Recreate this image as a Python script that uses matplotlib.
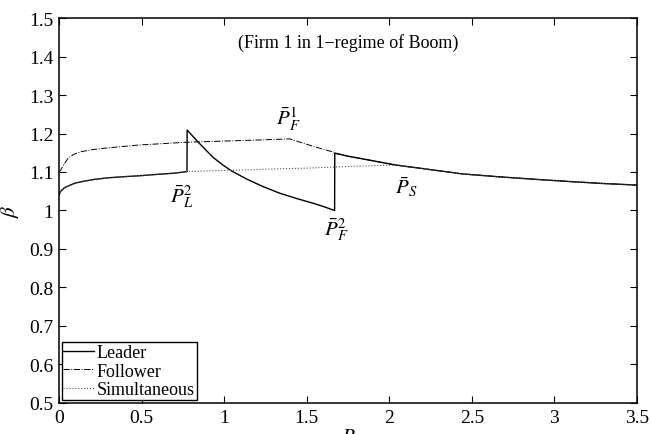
import matplotlib
matplotlib.use("Agg")
import matplotlib.pyplot as plt
from matplotlib.ticker import FuncFormatter

plt.rcParams['font.family'] = ['Liberation Serif', 'DejaVu Serif']
plt.rcParams['mathtext.fontset'] = 'stix'

# values
# leader, before the first jump (P_L^2)
lead1_x = [0.0, 0.01, 0.036, 0.097, 0.15, 0.218, 0.3, 0.4, 0.48, 0.6, 0.7, 0.775]
lead1_y = [1.040, 1.050, 1.060, 1.071, 1.076, 1.081, 1.085, 1.088, 1.090, 1.094, 1.097, 1.101]
# leader, between the two jumps (decaying part)
lead2_x = [0.776, 0.81, 0.842, 0.885, 0.933, 0.99, 1.044, 1.135, 1.236, 1.336, 1.44, 1.538, 1.61, 1.669]
lead2_y = [1.209, 1.193, 1.178, 1.159, 1.138, 1.119, 1.103, 1.082, 1.062, 1.045, 1.031, 1.019, 1.009, 1.000]
# common tail after P_F^2 (all three curves coincide further right)
tail_x = [1.670, 1.75, 1.84, 1.94, 2.04, 2.2, 2.444, 2.65, 2.848, 3.1, 3.3, 3.5]
tail_y = [1.149, 1.141, 1.134, 1.126, 1.118, 1.109, 1.095, 1.088, 1.082, 1.075, 1.070, 1.066]

# follower before it meets the leader tail
foll_x = [0.0, 0.012, 0.03, 0.056, 0.09, 0.137, 0.2, 0.28, 0.38, 0.48, 0.6, 0.76, 0.9,
          1.05, 1.2, 1.397, 1.47, 1.538, 1.6, 1.669]
foll_y = [1.100, 1.106, 1.120, 1.136, 1.146, 1.153, 1.158, 1.162, 1.166, 1.170, 1.173, 1.177,
          1.179, 1.181, 1.183, 1.186, 1.176, 1.167, 1.159, 1.151]

# simultaneous between P_L^2 and P_S
simu_x = [0.776, 0.9, 1.1, 1.3, 1.5, 1.669, 1.8, 1.94, 2.04]
simu_y = [1.101, 1.103, 1.105, 1.108, 1.110, 1.113, 1.115, 1.117, 1.118]

labels_txt = [r'$\bar{P}_L^2$', r'$\bar{P}_F^1$', r'$\bar{P}_F^2$', r'$\bar{P}_S$']
labels_x = [0.74, 1.39, 1.68, 2.10]
labels_y = [1.038, 1.238, 0.952, 1.061]

leader_x = lead1_x + lead2_x + tail_x
leader_y = lead1_y + lead2_y + tail_y
follower_x = foll_x + tail_x
follower_y = foll_y + tail_y
simul_x = lead1_x + simu_x + tail_x[4:]
simul_y = lead1_y + simu_y + tail_y[4:]

fig = plt.figure(figsize=(6.51, 4.35), dpi=100)
ax = fig.add_axes([0.0906, 0.0713, 0.8879, 0.885])

ax.plot(leader_x, leader_y, color='black', lw=1.0, linestyle='-', label='Leader')
ax.plot(follower_x, follower_y, color='black', lw=0.7, linestyle='-.', label='Follower')
ax.plot(simul_x, simul_y, color='#555555', lw=0.8, linestyle=':', label='Simultaneous')

for t, tx, ty in zip(labels_txt, labels_x, labels_y):
    ax.text(tx, ty, t, fontsize=15, ha='center', va='center')

ax.text(1.75, 1.438, '(Firm 1 in 1\u2212regime of Boom)', fontsize=13, ha='center', va='center')

ax.set_xlim(0, 3.5)
ax.set_ylim(0.5, 1.5)
ax.set_xticks([0, 0.5, 1, 1.5, 2, 2.5, 3, 3.5])
ax.set_yticks([0.5, 0.6, 0.7, 0.8, 0.9, 1.0, 1.1, 1.2, 1.3, 1.4, 1.5])
fmt = FuncFormatter(lambda v, p: '%g' % round(v, 2))
ax.xaxis.set_major_formatter(fmt)
ax.yaxis.set_major_formatter(fmt)
ax.tick_params(direction='in', top=True, right=True, length=5, width=0.8,
               labelsize=14, pad=4)
for s in ax.spines.values():
    s.set_linewidth(1.1)

ax.set_ylabel(r'$\beta$', fontsize=15, labelpad=6)
ax.set_xlabel(r'$P$', fontsize=15, labelpad=1)

leg = ax.legend(loc='lower left', fontsize=13, handlelength=1.7, handletextpad=0.15,
                borderaxespad=0.15, borderpad=0.1, labelspacing=0.1, fancybox=False,
                framealpha=1)
leg.get_frame().set_edgecolor('black')
leg.get_frame().set_linewidth(1.0)

fig.savefig('out.png', dpi=100)
